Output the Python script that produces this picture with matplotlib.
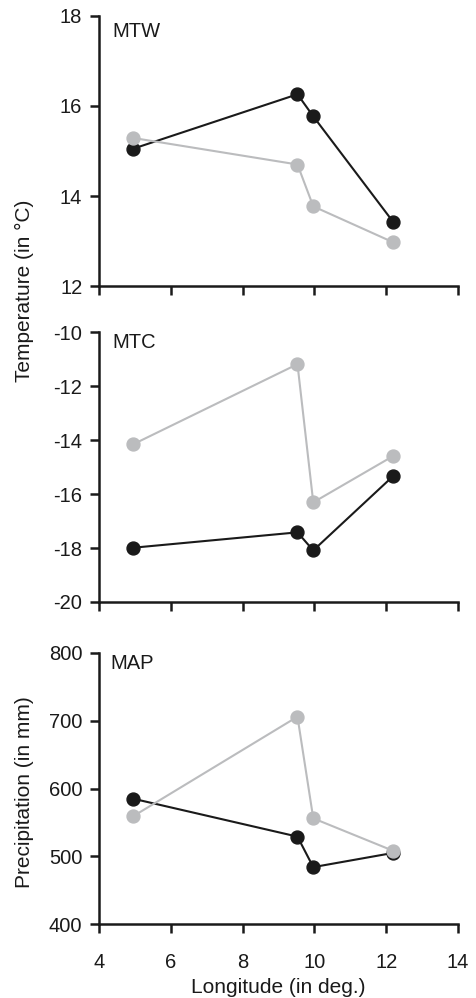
import matplotlib.pyplot as plt

plt.rcParams['font.family'] = ['Liberation Sans', 'DejaVu Sans']
plt.rcParams['axes.unicode_minus'] = False

# longitude of the sites
lon = [4.95, 9.53, 9.97, 12.2]

# mean temperature of warmest month
mtw_black = [15.05, 16.26, 15.77, 13.42]
mtw_grey = [15.29, 14.70, 13.77, 12.97]

# mean temperature of coldest month
mtc_black = [-17.99, -17.42, -18.09, -15.33]
mtc_grey = [-14.16, -11.19, -16.31, -14.59]

# mean annual precipitation
map_black = [585, 529, 484, 505]
map_grey = [559, 706, 556, 508]

panels = [
    ('MTW', mtw_black, mtw_grey, (12, 18), [12, 14, 16, 18]),
    ('MTC', mtc_black, mtc_grey, (-20, -10), [-20, -18, -16, -14, -12, -10]),
    ('MAP', map_black, map_grey, (400, 800), [400, 500, 600, 700, 800]),
]

# axes boxes in figure fraction [left, bottom, width, height]
boxes = [
    [0.2075, 0.7134, 0.7525, 0.2706],
    [0.2075, 0.3968, 0.7525, 0.2705],
    [0.2075, 0.0741, 0.7525, 0.2716],
]
# panel name positions (axes fraction, baseline)
name_pos = [(0.038, 0.921), (0.037, 0.941), (0.031, 0.941)]

ink = '#1a1a1a'
fs = 14.5

fig = plt.figure(figsize=(4.77, 9.98), dpi=100)

axes = []
for (name, blk, gry, ylim, yticks), box, (nx, ny) in zip(panels, boxes, name_pos):
    ax = fig.add_axes(box)
    ax.plot(lon, blk, color=ink, lw=1.5, marker='o', ms=9.3, zorder=3, clip_on=False)
    ax.plot(lon, gry, color='#bbbcbe', lw=1.5, marker='o', ms=9.3, zorder=4, clip_on=False)
    ax.set_xlim(4, 14)
    ax.set_ylim(*ylim)
    ax.set_yticks(yticks)
    ax.set_xticks([4, 6, 8, 10, 12, 14])
    ax.spines['top'].set_visible(False)
    ax.spines['right'].set_visible(False)
    for s in ['left', 'bottom']:
        ax.spines[s].set_linewidth(1.8)
        ax.spines[s].set_color(ink)
    ax.tick_params(direction='out', length=6.5, width=1.8, labelsize=fs, colors=ink)
    ax.tick_params(axis='y', pad=5.5)
    ax.tick_params(axis='x', pad=14)
    ax.text(nx, ny, name, transform=ax.transAxes, fontsize=fs, va='baseline', ha='left', color=ink)
    axes.append(ax)

axes[0].tick_params(labelbottom=False)
axes[1].tick_params(labelbottom=False)
axes[2].set_xlabel('Longitude (in deg.)', fontsize=15, color=ink, labelpad=5)

fig.text(0.052, 0.709, 'Temperature (in \u00b0C)', rotation=90, fontsize=15,
         va='center', ha='center', color=ink)
fig.text(0.052, 0.206, 'Precipitation (in mm)', rotation=90, fontsize=15,
         va='center', ha='center', color=ink)

fig.savefig('out.png', dpi=100)
